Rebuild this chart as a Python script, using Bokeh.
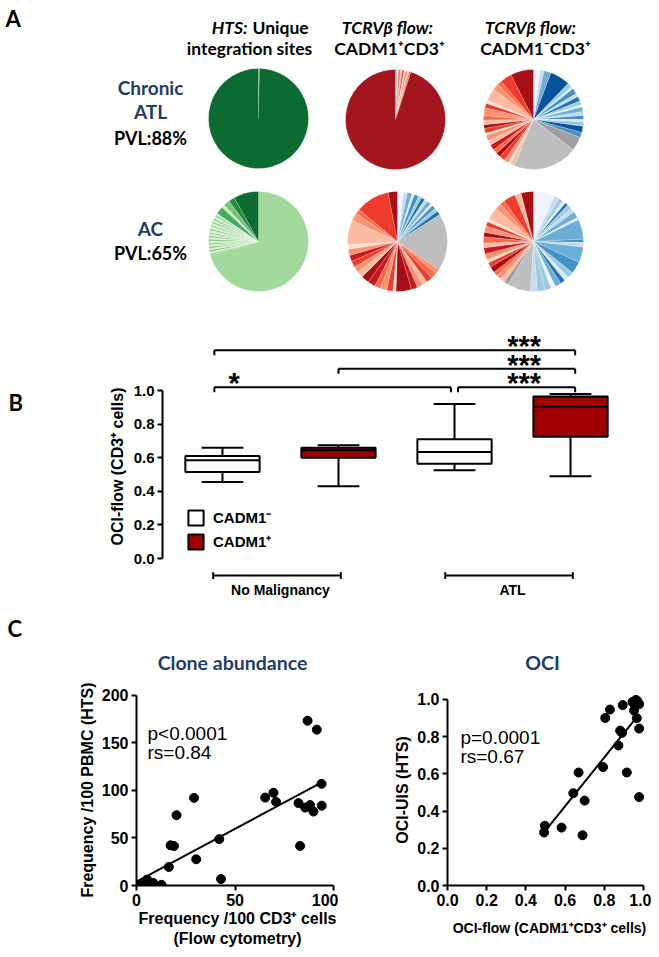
import math
from bokeh.plotting import figure
from bokeh.layouts import column, row
from bokeh.models import (Range1d, LinearAxis, FixedTicker, NumeralTickFormatter,
                          Legend, LegendItem, ColumnDataSource)
from bokeh.core.properties import value
from bokeh.embed import file_html
from bokeh.resources import INLINE

# ---------------- colour keys ----------------
R1, R2, R3, R4, R5, R6, R7 = "#fee0d2", "#fcbba1", "#fc9272", "#fb6a4a", "#ef3b2c", "#cb181d", "#a50f15"
B0, B1, B2, B3, B4, B5, B6, B7 = "#eff3ff", "#deebf7", "#c6dbef", "#9ecae1", "#6baed6", "#4292c6", "#2171b5", "#08519c"
GL, GD = "#bdbdbd", "#a0a0a0"
NAVY = "#1f3b6b"

# ---------------- DATA: panel A (clone shares %, clockwise from 12 o'clock) ----------------
chronic_hts_vals = [0.3, 99.7]
chronic_hts_cols = ["#86c383", "#0b6b30"]

chronic_pos_vals = [0.3, 0.3, 0.4, 0.7, 0.5, 0.6, 0.4, 0.7, 0.5, 0.6, 95.0]
chronic_pos_cols = [B2, B5, R1, R4, R2, R5, R1, R3, R2, R4, "#a3161e"]

chronic_neg_vals = [2.2, 1.2, 2.3, 6.5, 1.5, 0.8, 1.8, 1.2, 1.5, 1.2, 0.8, 1.5, 1.2, 1.3, 0.7, 1.5, 2.0, 1.7,
                    4.5, 21.0,
                    1.2, 0.8, 1.5, 1.8, 1.5, 1.5, 1.8, 1.5, 1.8, 0.8, 1.5, 1.2, 1.5, 1.5, 2.5, 1.5, 1.0,
                    4.0, 2.0, 1.5, 3.8, 7.4]
chronic_neg_cols = [B0, B2, B4, B7, B3, B1, B5, B2, B6, B3, B1, B4, B2, B5, B1, B3, B7, B5,
                    GD, GL,
                    R2, R1, R3, R5, R7, R4, R6, R2, R3, R1, R5, R7, R2, R4, R3, R5, R1,
                    R2, R3, R4, R5, R7]

ac_hts_vals = [70.5,
               0.6, 0.5, 0.7, 0.5, 0.6, 0.6, 0.5, 0.6, 0.7, 0.5, 0.6, 0.6,
               0.5, 0.6, 0.6, 0.7, 0.5, 0.6, 0.6, 0.5, 0.6, 0.7, 0.6, 0.5,
               2.5, 1.0, 2.0, 2.0, 8.0]
ac_hts_cols = ["#a1d99b",
               "#8dcb88", "#cfeac9", "#8dcb88", "#cfeac9", "#8dcb88", "#cfeac9",
               "#8dcb88", "#cfeac9", "#8dcb88", "#cfeac9", "#8dcb88", "#cfeac9",
               "#8dcb88", "#cfeac9", "#8dcb88", "#cfeac9", "#8dcb88", "#cfeac9",
               "#8dcb88", "#cfeac9", "#8dcb88", "#cfeac9", "#8dcb88", "#cfeac9",
               "#41ab5d", "#c7e9c0", "#74c476", "#238b45", "#0b6b30"]

ac_pos_vals = [2.0, 1.2, 1.5, 0.8, 1.5, 1.0, 1.2, 1.0, 1.3, 0.8, 1.2, 1.2, 1.3,
               18.5,
               1.5, 2.0, 2.0, 1.5, 2.0, 2.0, 5.0, 1.0, 2.0, 2.0, 2.0, 2.5, 2.5, 2.0, 2.0, 2.0, 2.0,
               2.0, 1.5, 8.0, 2.5, 1.5, 11.0, 3.0]
ac_pos_cols = [B0, B2, B4, B1, B5, B3, B6, B2, B4, B1, B5, B3, B6,
               GL,
               R3, R4, R5, R2, R3, R6, R7, R1, R5, R3, R4, R6, R7, R2, R3, R5, R6,
               R3, R1, R2, R3, R4, R5, R7]

ac_neg_vals = [7.0, 1.5, 1.5, 1.0, 1.0, 1.5, 1.5, 2.0, 0.8, 6.5, 1.0, 1.5, 5.0, 4.0, 2.0, 1.5, 1.5, 2.0,
               1.5, 2.0, 2.5, 2.2,
               7.5, 1.5,
               1.5, 1.5, 1.5, 2.0, 1.5, 1.0, 2.0, 2.0, 1.5, 2.0, 1.5, 2.0, 1.5, 1.0, 4.0, 2.0, 1.5, 4.0,
               2.0, 4.0]
ac_neg_cols = [B0, B2, B3, B1, B6, B3, B2, B4, B1, B4, B5, B2, B4, B5, B3, B1, B6, B4,
               B0, B3, B3, B2,
               GL, GD,
               R2, R3, R4, R7, R5, R1, R3, R6, R2, R4, R7, R3, R5, R1, R2, R3, R4, R5,
               R2, R7]

# ---------------- DATA: panel B (OCI-flow box plots) ----------------
box_group = ["No Malignancy", "No Malignancy", "ATL", "ATL"]
box_type = ["CADM1\u207b", "CADM1\u207a", "CADM1\u207b", "CADM1\u207a"]
box_min = [0.455, 0.43, 0.525, 0.49]
box_q1 = [0.515, 0.60, 0.565, 0.725]
box_med = [0.585, 0.645, 0.635, 0.905]
box_q3 = [0.61, 0.66, 0.71, 0.965]
box_max = [0.66, 0.675, 0.92, 0.98]

sig_x0 = [0.93, 2.00, 0.93, 3.03]
sig_x1 = [4.04, 4.04, 2.97, 4.04]
sig_y = [1.24, 1.13, 1.02, 1.02]
sig_text = ["***", "***", "*", "***"]
sig_text_x = [3.6, 3.6, 1.1, 3.6]

grp_labels = ["No Malignancy", "ATL"]
grp_x0 = [0.92, 2.92]
grp_x1 = [2.02, 4.02]

# ---------------- DATA: panel C (scatter) ----------------
abund_flow = [86.8, 91.5, 93.9, 65.3, 69.5, 70.8, 82.2, 85.6, 88.1, 89.8, 94.0, 83.0, 29.2, 20.3,
              17.3, 19.0, 16.4, 30.3, 42.0, 42.9, 5.4, 8.5, 12.7, 0.3, 2.0, 3.7, 1.2, 4.6]
abund_hts = [173.4, 164.0, 107.0, 92.5, 97.6, 88.0, 86.7, 82.0, 84.6, 77.8, 84.0, 41.6, 92.2, 74.0,
             42.3, 41.6, 19.5, 27.6, 48.8, 6.8, 6.1, 2.7, 0.7, 0.7, 0.0, 0.7, 0.0, 2.7]
abund_fit_x = [0, 94]
abund_fit_y = [4, 108.5]

oci_flow = [0.497, 0.493, 0.582, 0.689, 0.642, 0.669, 0.700, 0.794, 0.805, 0.829, 0.872, 0.881, 0.891,
            0.894, 0.915, 0.966, 0.978, 0.978, 0.949, 0.961, 0.969, 0.956, 0.978, 0.952, 0.944]
oci_uis = [0.321, 0.285, 0.311, 0.270, 0.496, 0.607, 0.456, 0.636, 0.900, 0.945, 0.752, 0.832, 0.820,
           0.969, 0.607, 0.899, 0.843, 0.475, 0.983, 0.997, 0.991, 0.966, 0.974, 0.940, 0.986]
oci_fit_x = [0.497, 0.969]
oci_fit_y = [0.291, 0.909]

AR = "Liberation Sans"


def canvas(w, h):
    p = figure(width=w, height=h, x_range=Range1d(0, w), y_range=Range1d(0, h),
               output_backend="svg", toolbar_location=None, min_border=0,
               x_axis_location=None, y_axis_location=None)
    p.grid.visible = False
    p.outline_line_color = None
    return p


def txt(p, x, y, s, size, color="black", style="bold", font="Lato", align="center", baseline="middle"):
    p.text(x=[x], y=[y], text=[s], text_font=value(font), text_font_size=size,
           text_font_style=style, text_color=color, text_align=align, text_baseline=baseline)


def draw_pie(p, cx, cy, r, vals, cols):
    tot = float(sum(vals))
    starts, ends, c = [], [], 0.0
    for v in vals:
        starts.append(math.pi / 2 - 2 * math.pi * (c + v) / tot)
        ends.append(math.pi / 2 - 2 * math.pi * c / tot)
        c += v
    src = ColumnDataSource(dict(start=starts, end=ends, color=cols))
    p.wedge(x=cx, y=cy, radius=r, start_angle="start", end_angle="end", fill_color="color",
            line_color="white", line_width=0.4, line_alpha=0.5, source=src)


def style_axis(ax, size="15px", lsize=None):
    ax.axis_line_width = 2
    ax.axis_line_color = "black"
    ax.major_tick_line_width = 2
    ax.major_tick_line_color = "black"
    ax.major_tick_in = 0
    ax.major_tick_out = 5
    ax.minor_tick_line_color = None
    ax.major_label_text_font = AR
    ax.major_label_text_font_style = "bold"
    ax.major_label_text_font_size = size
    ax.major_label_text_color = "black"
    ax.major_label_standoff = 3
    ax.axis_label_text_font = AR
    ax.axis_label_text_font_style = "bold"
    ax.axis_label_text_font_size = lsize or size
    ax.axis_label_text_color = "black"


# ================= Panel A =================
WA, HA = 651, 300
pA = canvas(WA, HA)
ay_ = lambda yr: HA - yr

txt(pA, 5, ay_(18), "A", "22px", align="left")
txt(pA, 247, ay_(27), "HTS:", "17.5px", style="bold italic", align="right")
txt(pA, 252, ay_(27), "Unique", "17.5px", align="left")
txt(pA, 249, ay_(48), "integration sites", "17.5px")
txt(pA, 387, ay_(27), "TCRV\u03b2 flow:", "17.5px", style="bold italic")
txt(pA, 389, ay_(48), "CADM1\u207aCD3\u207a", "17.5px")
txt(pA, 530, ay_(27), "TCRV\u03b2 flow:", "17.5px", style="bold italic")
txt(pA, 535, ay_(48), "CADM1\u207bCD3\u207a", "17.5px")

txt(pA, 150, ay_(87), "Chronic", "19px", color=NAVY)
txt(pA, 150, ay_(111), "ATL", "19px", color=NAVY)
txt(pA, 150, ay_(137), "PVL:88%", "18px")
txt(pA, 150, ay_(228), "AC", "19px", color=NAVY)
txt(pA, 150, ay_(252), "PVL:65%", "18px")

RAD = 50
draw_pie(pA, 258, ay_(118), RAD, chronic_hts_vals, chronic_hts_cols)
draw_pie(pA, 395, ay_(119), RAD, chronic_pos_vals, chronic_pos_cols)
draw_pie(pA, 533, ay_(119), RAD, chronic_neg_vals, chronic_neg_cols)
draw_pie(pA, 258, ay_(241), RAD, ac_hts_vals, ac_hts_cols)
draw_pie(pA, 397, ay_(241), RAD, ac_pos_vals, ac_pos_cols)
draw_pie(pA, 533, ay_(241), RAD, ac_neg_vals, ac_neg_cols)

# ================= Panel B =================
pBL = canvas(78, 312)
txt(pBL, 8, 612 - 388, "B", "22px", align="left")

pB = figure(width=573, height=312, x_range=Range1d(0.483, 4.698), y_range=Range1d(-0.321, 1.417),
            output_backend="svg", toolbar_location=None, min_border_left=84, min_border_right=0,
            min_border_top=20, min_border_bottom=0, x_axis_location=None, y_axis_location=None)
pB.grid.visible = False
pB.outline_line_color = None

yB = LinearAxis(bounds=(0, 1), ticker=FixedTicker(ticks=[0, 0.2, 0.4, 0.6, 0.8, 1.0]),
                formatter=NumeralTickFormatter(format="0.0"), axis_label="OCI-flow (CD3\u207a cells)")
style_axis(yB, "15px", "16px")
yB.axis_label_standoff = 5
pB.add_layout(yB, "left")

box_pos = [1, 2, 3, 4]
box_fill = ["white" if t.endswith("\u207b") else "#a00000" for t in box_type]
BW, CW = 0.64, 0.36
srcB = ColumnDataSource(dict(
    x=box_pos, q1=box_q1, q3=box_q3, med=box_med, lo=box_min, hi=box_max, fill=box_fill,
    bl=[x - BW / 2 for x in box_pos], br=[x + BW / 2 for x in box_pos],
    cl=[x - CW / 2 for x in box_pos], cr=[x + CW / 2 for x in box_pos]))
pB.segment(x0="x", x1="x", y0="q3", y1="hi", line_color="black", line_width=2, source=srcB)
pB.segment(x0="x", x1="x", y0="q1", y1="lo", line_color="black", line_width=2, source=srcB)
pB.segment(x0="cl", x1="cr", y0="hi", y1="hi", line_color="black", line_width=2, source=srcB)
pB.segment(x0="cl", x1="cr", y0="lo", y1="lo", line_color="black", line_width=2, source=srcB)
rb = pB.vbar(x="x", width=BW, bottom="q1", top="q3", fill_color="fill", line_color="black",
             line_width=2, source=srcB)
pB.segment(x0="bl", x1="br", y0="med", y1="med", line_color="black", line_width=2, source=srcB)

# significance brackets
TK = 0.03
pB.segment(x0=sig_x0, x1=sig_x1, y0=sig_y, y1=sig_y, line_color="black", line_width=2)
pB.segment(x0=sig_x0, x1=sig_x0, y0=sig_y, y1=[y - TK for y in sig_y], line_color="black", line_width=2)
pB.segment(x0=sig_x1, x1=sig_x1, y0=sig_y, y1=[y - TK for y in sig_y], line_color="black", line_width=2)
pB.text(x=sig_text_x, y=[y + 0.024 for y in sig_y], text=sig_text, text_font=value(AR),
        text_font_style="bold", text_font_size="29px", text_align="center", text_baseline="alphabetic")

# group brackets
GY = -0.101
pB.segment(x0=grp_x0, x1=grp_x1, y0=[GY] * 2, y1=[GY] * 2, line_color="black", line_width=2)
pB.segment(x0=grp_x0, x1=grp_x0, y0=[GY + 0.02] * 2, y1=[GY - 0.02] * 2, line_color="black", line_width=2)
pB.segment(x0=grp_x1, x1=grp_x1, y0=[GY + 0.02] * 2, y1=[GY - 0.02] * 2, line_color="black", line_width=2)
pB.text(x=[(a + b) / 2 for a, b in zip([1, 3], [2, 4])], y=[-0.19] * 2, text=grp_labels,
        text_font=value(AR), text_font_style="bold", text_font_size="14px",
        text_align="center", text_baseline="middle")

leg = Legend(items=[LegendItem(label=box_type[0], renderers=[rb], index=0),
                    LegendItem(label=box_type[1], renderers=[rb], index=1)],
             location=(24, 61), border_line_color=None, background_fill_alpha=0,
             padding=0, margin=0, spacing=4, glyph_width=19, glyph_height=19, label_height=19,
             label_standoff=8, label_text_font=AR, label_text_font_style="bold",
             label_text_font_size="15px", label_text_color="black")
pB.add_layout(leg)

# ================= Panel C header =================
pC0 = canvas(651, 68)
txt(pC0, 7, 680 - 628, "C", "22px", align="left")
txt(pC0, 232, 680 - 662, "Clone abundance", "19.5px", color=NAVY)
txt(pC0, 542, 680 - 662, "OCI", "19.5px", color=NAVY)

# ================= Panel C1 =================
pC1 = figure(width=338, height=269, x_range=Range1d(0, 102.5), y_range=Range1d(0, 201),
             output_backend="svg", toolbar_location=None, min_border_left=136, min_border_right=0,
             min_border_top=14, min_border_bottom=62, x_axis_location=None, y_axis_location=None)
pC1.grid.visible = False
pC1.outline_line_color = None
xC1 = LinearAxis(bounds=(0, 100), ticker=FixedTicker(ticks=[0, 50, 100]),
                 axis_label="Frequency /100 CD3\u207a cells\n(Flow cytometry)")
style_axis(xC1, "16px", "16px")
xC1.axis_label_standoff = 1
yC1 = LinearAxis(bounds=(0, 200), ticker=FixedTicker(ticks=[0, 50, 100, 150, 200]),
                 axis_label="Frequency /100 PBMC (HTS)")
style_axis(yC1, "16px", "16px")
yC1.axis_label_standoff = 3
pC1.add_layout(xC1, "below")
pC1.add_layout(yC1, "left")
pC1.line(abund_fit_x, abund_fit_y, line_color="black", line_width=2)
pC1.scatter(abund_flow, abund_hts, size=9, color="black")
pC1.text(x=[5.6, 5.6], y=[160, 139.5], text=["p<0.0001", "rs=0.84"], text_font=value(AR),
         text_font_size="19px", text_align="left", text_baseline="middle")

# ================= Panel C2 =================
pC2 = figure(width=313, height=269, x_range=Range1d(0, 1.041), y_range=Range1d(0, 1.026),
             output_backend="svg", toolbar_location=None, min_border_left=109, min_border_right=0,
             min_border_top=12, min_border_bottom=57, x_axis_location=None, y_axis_location=None)
pC2.grid.visible = False
pC2.outline_line_color = None
ticks01 = [0, 0.2, 0.4, 0.6, 0.8, 1.0]
xC2 = LinearAxis(bounds=(0, 1), ticker=FixedTicker(ticks=ticks01), formatter=NumeralTickFormatter(format="0.0"),
                 axis_label="OCI-flow (CADM1\u207aCD3\u207a cells)")
style_axis(xC2, "16px", "14px")
xC2.axis_label_standoff = 11
yC2 = LinearAxis(bounds=(0, 1), ticker=FixedTicker(ticks=ticks01), formatter=NumeralTickFormatter(format="0.0"),
                 axis_label="OCI-UIS (HTS)")
style_axis(yC2, "16px", "16px")
yC2.axis_label_standoff = 3
pC2.add_layout(xC2, "below")
pC2.add_layout(yC2, "left")
pC2.line(oci_fit_x, oci_fit_y, line_color="black", line_width=2)
pC2.scatter(oci_flow, oci_uis, size=9, color="black")
pC2.text(x=[0.066, 0.066], y=[0.795, 0.692], text=["p=0.0001", "rs=0.67"], text_font=value(AR),
         text_font_size="19px", text_align="left", text_baseline="middle")

layout = column(pA, row(pBL, pB), pC0, row(pC1, pC2))
with open("out.html", "w") as f:
    f.write(file_html(layout, INLINE))
